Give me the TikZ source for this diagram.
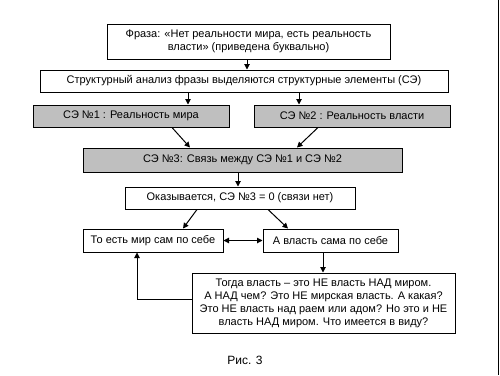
\documentclass[tikz,border=0pt]{standalone}
\usepackage{fontspec}
\setmainfont{Liberation Sans}
\usetikzlibrary{arrows.meta,calc}
\tikzset{
  box/.style={draw=black, line width=1pt, fill=white, inner sep=1pt, align=center, font=\fontsize{11}{13}\selectfont},
  gbox/.style={box, fill=black!25},
  arr/.style={line width=1pt, -{Triangle[length=5.5pt,width=5.5pt]}},
  darr/.style={line width=1pt, {Triangle[length=5.5pt,width=5.5pt]}-{Triangle[length=5.5pt,width=5.5pt]}},
}
\begin{document}
\begin{tikzpicture}[x=1pt,y=-1pt]
\useasboundingbox (0,0) rectangle (500,375);
\draw[line width=1.2pt] (498.8,0) -- (498.8,375);
\node[box, minimum width=283pt, minimum height=35pt] (b1) at (248.5,41.5) {Фраза: «Нет реальности мира, есть реальность\\власти» (приведена буквально)};
\node[box, minimum width=408pt, minimum height=22pt] (b2) at (244,81) {Структурный анализ  фразы выделяются структурные элементы (СЭ)};
\node[gbox, minimum width=196pt, minimum height=22pt] (s1) at (131,116) {СЭ №1 : Реальность мира};
\node[gbox, minimum width=196pt, minimum height=22pt] (s2) at (352,116) {СЭ №2 : Реальность власти};
\node[gbox, minimum width=319pt, minimum height=24pt] (s3) at (242.5,160) {СЭ №3: Связь между  СЭ №1 и СЭ №2};
\node[box, minimum width=230pt, minimum height=22pt] (ok) at (240,198) {Оказывается, СЭ №3 = 0 (связи нет)};
\node[box, minimum width=140pt, minimum height=23pt] (t1) at (153,240.5) {То есть мир сам по себе};
\node[box, minimum width=135pt, minimum height=23pt] (t2) at (330.5,240.5) {А власть сама по себе};
\node[box, minimum width=263pt, minimum height=60pt] (tg) at (323.5,303) {Тогда власть – это НЕ власть НАД миром.\\А НАД чем? Это НЕ мирская власть. А какая?\\Это НЕ власть над раем или адом? Но это и НЕ\\власть НАД миром. Что имеется в виду?};
\node[font=\fontsize{12}{14}\selectfont] (cap) at (245,360) {Рис. 3};
\draw[arr] (b1.south -| 247,0) -- (b2.north -| 247,0);
\draw[arr] (b2.south -| 188,0) -- (s1.north -| 188,0);
\draw[arr] (b2.south -| 299,0) -- (s2.north -| 299,0);
\draw[arr] ($(s1.south)+(41,0)$) -- ($(s3.north)+(-52.5,0)$);
\draw[arr] ($(s2.south)+(-34,0)$) -- ($(s3.north)+(54.5,0)$);
\draw[arr] (s3.south -| 238,0) -- (ok.north -| 238,0);
\draw[arr] ($(ok.south)+(-43,0)$) -- ($(t1.north)+(30,0)$);
\draw[arr] ($(ok.south)+(28,0)$) -- ($(t2.north)+(-42.5,0)$);
\draw[darr] (t1.east) -- (t2.west);
\draw[arr] (t2.south -| 323,0) -- (tg.north -| 323,0);
\draw[arr] (tg.west |- 0,299) -| (t1.south -| 137,0);
\end{tikzpicture}
\end{document}
